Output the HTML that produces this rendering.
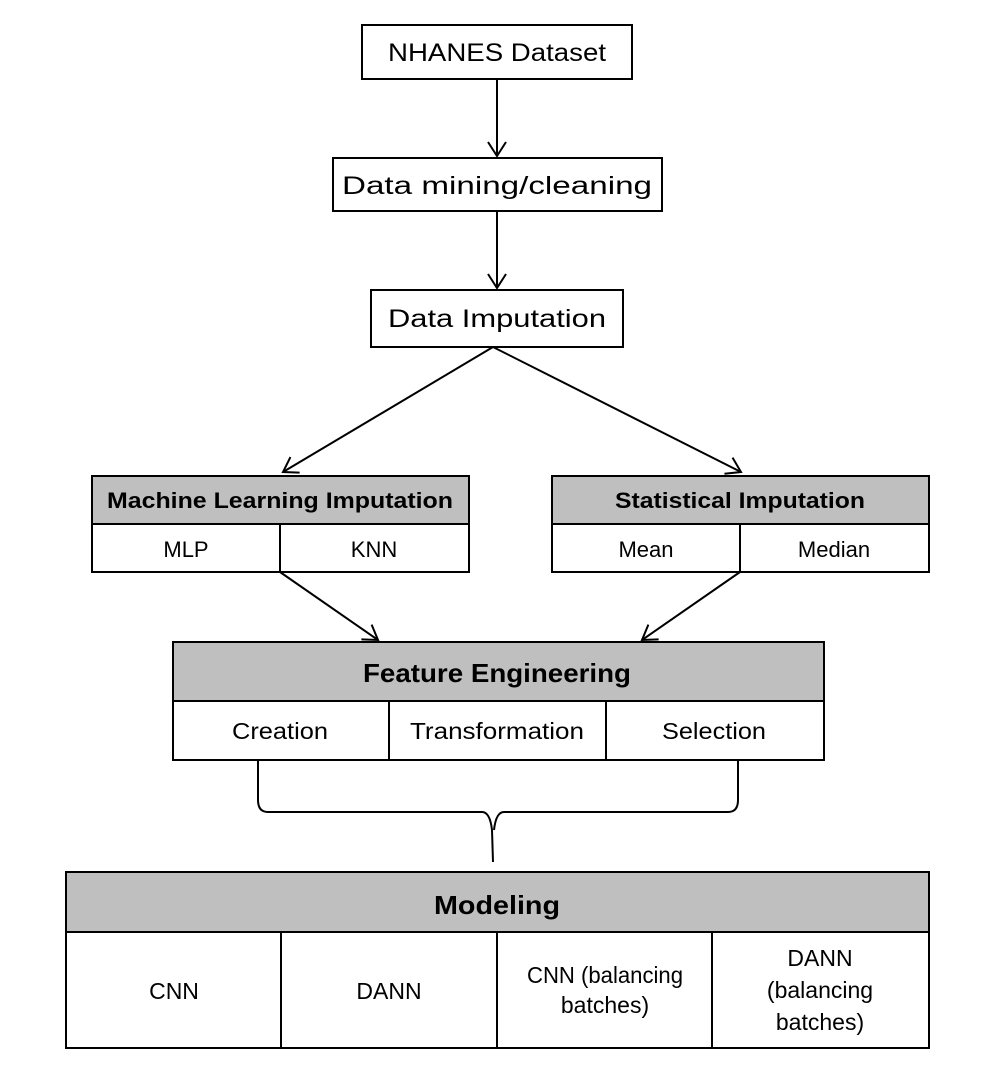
<!DOCTYPE html>
<html><head><meta charset="utf-8"><style>
html,body{margin:0;padding:0;background:#fff;}
svg{display:block;}
text{font-family:"Liberation Sans",sans-serif;fill:#000;}
.b{font-weight:bold;}
</style></head><body>
<svg width="1006" height="1076" viewBox="0 0 1006 1076" xmlns="http://www.w3.org/2000/svg">
<defs>
<marker id="ah" markerWidth="30" markerHeight="30" refX="15" refY="15" orient="auto" markerUnits="userSpaceOnUse">
<path d="M1,6 L15,15 L1,24" fill="none" stroke="#000" stroke-width="2"/>
</marker>
</defs>
<g stroke="#000" stroke-width="2" fill="none">
<rect x="362" y="25" width="270" height="54" fill="#fff"/>
<rect x="333" y="158" width="329" height="53" fill="#fff"/>
<rect x="371" y="290" width="252" height="57" fill="#fff"/>
<line x1="497" y1="79" x2="497" y2="156" marker-end="url(#ah)"/>
<line x1="497" y1="211" x2="497" y2="288" marker-end="url(#ah)"/>
<line x1="493" y1="347" x2="283" y2="472" marker-end="url(#ah)"/>
<line x1="493" y1="347" x2="741" y2="472" marker-end="url(#ah)"/>
<line x1="280" y1="572" x2="378" y2="640" marker-end="url(#ah)"/>
<line x1="740" y1="572" x2="642" y2="640" marker-end="url(#ah)"/>
<rect x="92" y="476" width="377" height="48" fill="#bfbfbf"/>
<rect x="92" y="524" width="377" height="48" fill="#fff"/>
<line x1="280" y1="524" x2="280" y2="572"/>
<rect x="552" y="476" width="377" height="48" fill="#bfbfbf"/>
<rect x="552" y="524" width="377" height="48" fill="#fff"/>
<line x1="740" y1="524" x2="740" y2="572"/>
<rect x="173" y="642" width="651" height="59" fill="#bfbfbf"/>
<rect x="173" y="701" width="651" height="59" fill="#fff"/>
<line x1="389" y1="701" x2="389" y2="760"/>
<line x1="606" y1="701" x2="606" y2="760"/>
<path d="M258,760 L258,800 Q258,812 268,812 L482,812 Q490,812 492,830 L493,862 M738,760 L738,800 Q738,812 728,812 L504,812 Q496,812 494,830"/>
<rect x="66" y="872" width="863" height="60" fill="#bfbfbf"/>
<rect x="66" y="932" width="863" height="116" fill="#fff"/>
<line x1="281" y1="932" x2="281" y2="1048"/>
<line x1="497" y1="932" x2="497" y2="1048"/>
<line x1="712" y1="932" x2="712" y2="1048"/>
</g>
<g text-anchor="middle">
<text x="497" y="61" font-size="25" textLength="218" lengthAdjust="spacingAndGlyphs">NHANES Dataset</text>
<text x="497" y="194" font-size="25" textLength="310" lengthAdjust="spacingAndGlyphs">Data mining/cleaning</text>
<text x="497" y="327" font-size="25" textLength="218" lengthAdjust="spacingAndGlyphs">Data Imputation</text>
<text class="b" x="280" y="508" font-size="22" textLength="346" lengthAdjust="spacingAndGlyphs">Machine Learning Imputation</text>
<text class="b" x="740" y="508" font-size="22" textLength="250" lengthAdjust="spacingAndGlyphs">Statistical Imputation</text>
<text x="186" y="557" font-size="22">MLP</text>
<text x="374" y="557" font-size="22">KNN</text>
<text x="646" y="557" font-size="22">Mean</text>
<text x="834" y="557" font-size="22">Median</text>
<text class="b" x="497" y="682" font-size="26" textLength="268" lengthAdjust="spacingAndGlyphs">Feature Engineering</text>
<text x="280" y="739" font-size="23" textLength="96" lengthAdjust="spacingAndGlyphs">Creation</text>
<text x="497" y="739" font-size="23" textLength="174" lengthAdjust="spacingAndGlyphs">Transformation</text>
<text x="714" y="739" font-size="23" textLength="104" lengthAdjust="spacingAndGlyphs">Selection</text>
<text class="b" x="497" y="914" font-size="26" textLength="126" lengthAdjust="spacingAndGlyphs">Modeling</text>
<text x="174" y="999" font-size="23">CNN</text>
<text x="389" y="999" font-size="23">DANN</text>
<text x="605" y="983" font-size="23" textLength="156" lengthAdjust="spacingAndGlyphs">CNN (balancing</text>
<text x="605" y="1013" font-size="23">batches)</text>
<text x="820" y="966" font-size="23">DANN</text>
<text x="820" y="998" font-size="23">(balancing</text>
<text x="820" y="1030" font-size="23">batches)</text>
</g>
</svg>
</body></html>
